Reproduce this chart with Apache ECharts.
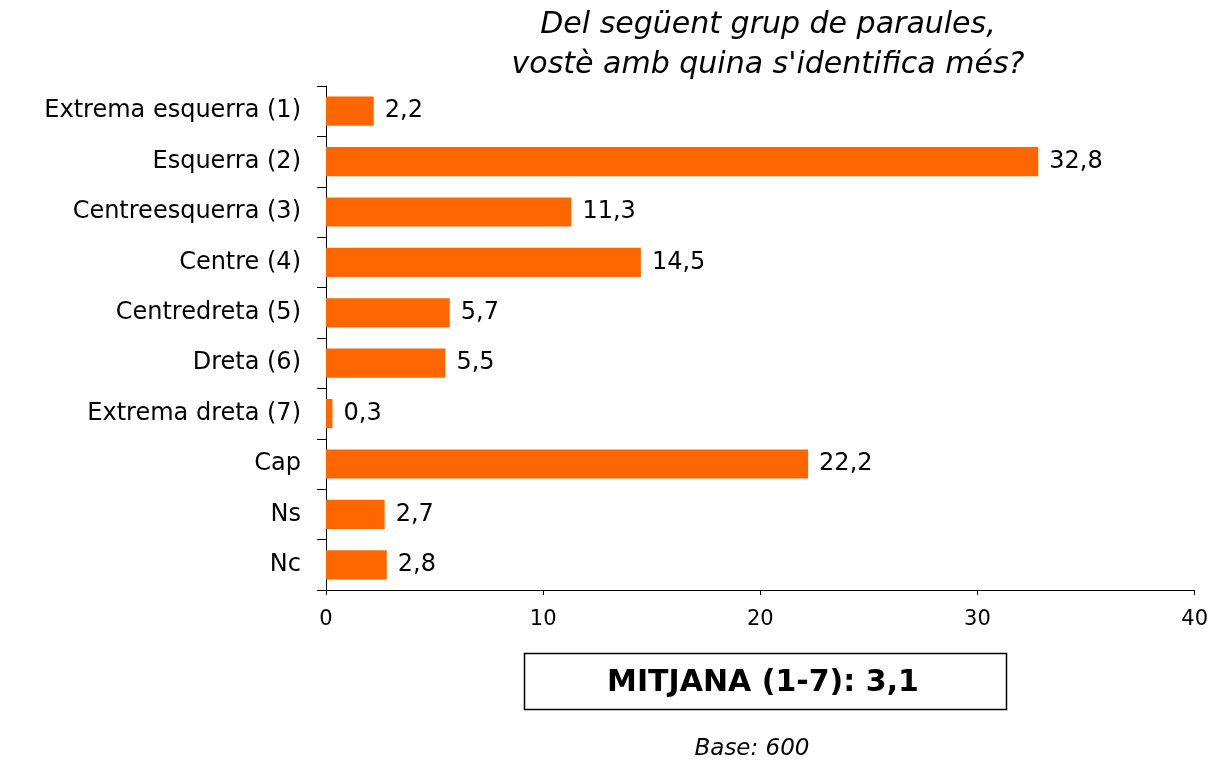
<!DOCTYPE html>
<html>
<head>
<meta charset="utf-8">
<script src="https://cdn.jsdelivr.net/npm/echarts@6/dist/echarts.min.js"></script>
<style>
	html,body{margin:0;padding:0;background:#fff;}
	#chart{width:1211px;height:761px;}
</style>
</head>
<body>
<div id="chart"></div>
<script>
var categories = ['Extrema esquerra (1)', 'Esquerra (2)', 'Centreesquerra (3)', 'Centre (4)', 'Centredreta (5)', 'Dreta (6)', 'Extrema dreta (7)', 'Cap', 'Ns', 'Nc']
var values = [2.2, 32.8, 11.3, 14.5, 5.7, 5.5, 0.3, 22.2, 2.7, 2.8]
var xTicks = [0, 10, 20, 30, 40]
var titleLines = ['Del següent grup de paraules,', "vostè amb quina s'identifica més?"]
var meanText = 'MITJANA (1-7): 3,1'
var baseText = 'Base: 600'

var font = 'DejaVu Sans, Verdana, sans-serif'
var chart = echarts.init(document.getElementById('chart'))

// decimal comma, catalan style
function comma(v){
	return String(v).replace('.', ',')
}

var option = {
	backgroundColor: '#fff',
	animation: false,
	title: {
		text: titleLines.join('\n'),
		left: 763,
		top: 0,
		textAlign: 'center',
		textStyle: {
			fontFamily: font,
			fontStyle: 'italic',
			fontWeight: 'normal',
			fontSize: 30,
			lineHeight: 40,
			color: '#000'
		}
	},
	grid: {
		left: 326,
		right: 12,
		top: 86,
		bottom: 171,
		containLabel: false
	},
	xAxis: {
		type: 'value',
		min: 0,
		max: 40,
		interval: 10,
		axisLine: {show: true, lineStyle: {color: '#000', width: 1}},
		axisTick: {show: true, length: 5, lineStyle: {color: '#000'}},
		splitLine: {show: false},
		axisLabel: {
			fontFamily: font,
			fontSize: 21,
			color: '#000',
			margin: 19,
			formatter: function(v){ return xTicks.indexOf(v) >= 0 ? String(v) : '' }
		}
	},
	yAxis: {
		type: 'category',
		inverse: true,
		data: categories,
		axisLine: {show: true, lineStyle: {color: '#000', width: 1}},
		axisTick: {show: true, length: 9, lineStyle: {color: '#000'}},
		axisLabel: {
			fontFamily: font,
			fontSize: 24,
			color: '#000',
			margin: 25
		}
	},
	series: [{
		type: 'bar',
		data: values,
		barWidth: '58%',
		itemStyle: {color: '#ff6600'},
		label: {
			show: true,
			position: 'right',
			distance: 11,
			fontFamily: font,
			fontSize: 24,
			color: '#000',
			formatter: function(p){ return comma(p.value) }
		}
	}],
	graphic: [
		{
			type: 'rect',
			shape: {x: 524.5, y: 653.5, width: 482, height: 56},
			style: {fill: '#fff', stroke: '#000', lineWidth: 1.5}
		},
		{
			type: 'text',
			x: 763,
			y: 683,
			style: {
				text: meanText,
				fontFamily: font,
				fontSize: 30,
				fontWeight: 'bold',
				fill: '#000',
				align: 'center',
				verticalAlign: 'middle'
			}
		},
		{
			type: 'text',
			x: 752,
			y: 749,
			style: {
				text: baseText,
				fontFamily: font,
				fontSize: 23,
				fontStyle: 'italic',
				fill: '#000',
				align: 'center',
				verticalAlign: 'middle'
			}
		}
	]
}
chart.setOption(option)
</script>
</body>
</html>
